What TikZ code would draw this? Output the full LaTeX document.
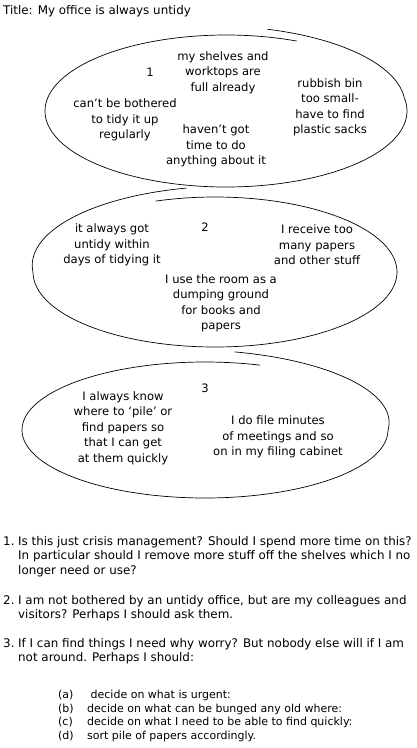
\documentclass[tikz,border=0pt]{standalone}
\usepackage{fontspec}
\setmainfont{DejaVu Sans}

\begin{document}
\begin{tikzpicture}[x=1pt, y=-1pt, font=\fontsize{11.6}{15.5}\selectfont,
    bubbletext/.style={align=center, inner sep=0pt},
    listtext/.style={anchor=base west, inner sep=0pt, align=left, font=\fontsize{11.9}{14.5}\selectfont},
    subtext/.style={anchor=base west, inner sep=0pt, font=\fontsize{11}{13.5}\selectfont},
    loopline/.style={line width=0.7pt}]

    \useasboundingbox (0,0) rectangle (417,748);

    % Title
    \node[anchor=base west, inner sep=0pt, font=\fontsize{11.9}{14}\selectfont] (title) at (3,14) {Title: My office is always untidy};

    % Loop 1
    \begin{scope}
        \draw[loopline] plot[domain=67:438, samples=220, smooth]
            ({226 + 181*(1 + 0.1*max(0,\x-370)/68)*cos(\x)}, {111 - 76*(1 + 0.1*max(0,\x-370)/68)*sin(\x)});
        \node (one) at (150,72) {1};
        \node[bubbletext] (shelves) at (223,72.5) {my shelves and\\worktops are\\full already};
        \node[bubbletext] (bothered) at (125,120) {can't be bothered\\to tidy it up\\regularly};
        \node[bubbletext] (notime) at (216,146) {haven't got\\time to do\\anything about it};
        \node[bubbletext] (rubbish) at (330,107.5) {rubbish bin\\too small-\\have to find\\plastic sacks};
    \end{scope}

    % Loop 2
    \begin{scope}
        \draw[loopline] plot[domain=-262:109, samples=220, smooth]
            ({215 + 182*(1 + 0.13*max(0,-180-\x)/82)*cos(\x)}, {272 - 75*(1 + 0.13*max(0,-180-\x)/82)*sin(\x)});
        \node (two) at (205,227) {2};
        \node[bubbletext] (untidy) at (112,245) {it always got\\untidy within\\days of tidying it};
        \node[bubbletext] (receive) at (317,245) {I receive too\\many papers\\and other stuff};
        \node[bubbletext] (dumping) at (221,303.5) {I use the room as a\\dumping ground\\for books and\\papers};
    \end{scope}

    % Loop 3
    \begin{scope}
        \draw[loopline] plot[domain=-287.5:82, samples=220, smooth]
            ({205 + 183*(1 + 0.16*max(0,\x)/82)*cos(\x)}, {430 - 68*(1 + 0.16*max(0,\x)/82)*sin(\x)});
        \node (three) at (205,388) {3};
        \node[bubbletext] (know) at (123,428) {I always know\\where to `pile' or\\find papers so\\that I can get\\at them quickly};
        \node[bubbletext] (minutes) at (278,437) {I do file minutes\\of meetings and so\\on in my filing cabinet};
    \end{scope}

    % Questions (base anchor sits on the last line)
    \node[listtext] (num1) at (3,545) {1.};
    \node[listtext] (q1) at (18,574) {Is this just crisis management? Should I spend more time on this?\\In particular should I remove more stuff off the shelves which I no\\longer need or use?};
    \node[listtext] (num2) at (3,604) {2.};
    \node[listtext] (q2) at (18,618.5) {I am not bothered by an untidy office, but are my colleagues and\\visitors? Perhaps I should ask them.};
    \node[listtext] (num3) at (3,647) {3.};
    \node[listtext] (q3) at (18,661.5) {If I can find things I need why worry? But nobody else will if I am\\not around. Perhaps I should:};

    % Sub-items
    \foreach \lab/\txt [count=\i] in {a/{\ decide on what is urgent:},
                                     b/{decide on what can be bunged any old where:},
                                     c/{decide on what I need to be able to find quickly:},
                                     d/{sort pile of papers accordingly.}} {
        \node[subtext] (lab-\lab) at (58,685+13.5*\i) {(\lab)};
        \node[subtext] (item-\lab) at (87,685+13.5*\i) {\txt};
    }

\end{tikzpicture}
\end{document}
